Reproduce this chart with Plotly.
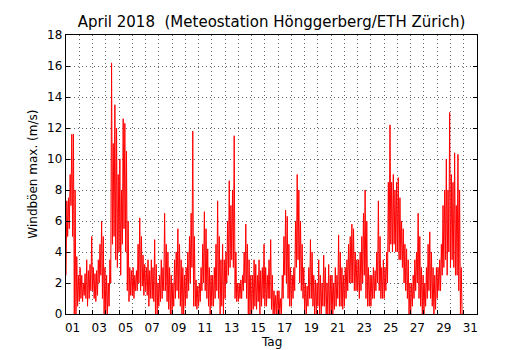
import plotly.graph_objects as go

# Day labels (odd days)
tick_labels = ["01", "03", "05", "07", "09", "11", "13", "15", "17", "19", "21",
               "23", "25", "27", "29", "31"]
tick_days = [1, 3, 5, 7, 9, 11, 13, 15, 17, 19, 21, 23, 25, 27, 29, 31]

# Max gust (m/s): per day, 8 three-hour bins, upper and lower envelope
gust_hi = [
    [7.3, 7.5, 9.0, 11.6, 11.6, 8.0, 3.7, 2.5],     # Apr 01
    [3.0, 2.5, 2.0, 2.6, 3.5, 2.8, 3.2, 5.0],       # Apr 02
    [3.0, 2.6, 2.8, 3.5, 4.5, 6.0, 5.0, 3.0],       # Apr 03
    [2.5, 2.0, 3.5, 16.2, 11.0, 13.5, 12.0, 9.0],   # Apr 04
    [10.0, 8.0, 12.6, 12.3, 10.5, 6.0, 3.0, 2.8],   # Apr 05
    [3.0, 2.5, 2.8, 4.5, 6.2, 5.0, 3.8, 3.2],       # Apr 06
    [3.0, 3.5, 2.8, 3.5, 3.0, 4.8, 3.2, 2.0],       # Apr 07
    [2.5, 3.5, 3.0, 6.5, 4.5, 4.0, 3.0, 2.5],       # Apr 08
    [2.0, 3.5, 4.0, 5.5, 4.5, 3.5, 3.0, 2.5],       # Apr 09
    [3.0, 4.0, 5.0, 6.5, 11.8, 5.0, 2.2, 1.8],      # Apr 10
    [2.0, 3.0, 4.5, 6.6, 5.5, 4.2, 3.0, 2.5],       # Apr 11
    [2.5, 3.0, 4.5, 7.3, 5.0, 3.5, 4.5, 3.5],       # Apr 12
    [4.0, 6.0, 8.6, 7.0, 8.0, 11.5, 4.0, 2.0],      # Apr 13
    [2.0, 2.2, 2.5, 4.0, 5.8, 4.5, 3.5, 2.5],       # Apr 14
    [2.5, 3.5, 3.2, 2.5, 3.5, 2.8, 3.0, 4.5],       # Apr 15
    [3.0, 2.5, 3.5, 4.8, 2.5, 1.5, 1.2, 1.5],       # Apr 16
    [1.5, 1.0, 2.5, 5.0, 6.7, 6.3, 4.5, 3.0],       # Apr 17
    [2.5, 3.0, 6.0, 9.0, 8.0, 6.0, 4.5, 3.0],       # Apr 18
    [2.0, 1.8, 3.0, 4.8, 4.0, 2.5, 2.2, 2.0],       # Apr 19
    [3.5, 2.5, 2.0, 3.8, 3.0, 2.0, 3.2, 2.5],       # Apr 20
    [2.5, 2.0, 3.0, 2.5, 5.1, 4.0, 3.0, 2.5],       # Apr 21
    [3.0, 3.5, 4.5, 5.0, 5.8, 5.5, 4.0, 3.5],       # Apr 22
    [3.5, 4.0, 5.0, 6.5, 8.0, 6.0, 3.0, 2.5],       # Apr 23
    [2.5, 3.0, 2.8, 4.0, 7.3, 5.0, 3.0, 3.5],       # Apr 24
    [3.0, 4.0, 8.5, 12.2, 8.5, 9.0, 8.0, 8.5],      # Apr 25
    [8.8, 7.5, 6.0, 5.5, 4.5, 4.2, 3.5, 2.0],       # Apr 26
    [2.0, 2.5, 3.5, 4.0, 6.5, 5.0, 3.0, 2.5],       # Apr 27
    [2.0, 3.0, 4.5, 5.3, 4.0, 3.0, 2.5, 3.0],       # Apr 28
    [3.0, 3.5, 4.5, 7.0, 8.0, 10.0, 8.0, 13.0],     # Apr 29
    [9.0, 8.5, 10.4, 7.0, 10.3, 8.0, 3.0, 0.0],     # Apr 30
]
gust_lo = [
    [2.5, 5.0, 5.5, 7.0, 5.0, 0.0, 0.0, 0.5],
    [0.8, 1.0, 0.8, 1.2, 1.0, 0.5, 1.0, 1.5],
    [1.5, 1.0, 0.8, 1.2, 2.0, 2.5, 1.0, 0.0],
    [0.0, 0.0, 0.5, 2.0, 4.5, 5.0, 3.5, 3.0],
    [4.0, 2.5, 4.5, 5.5, 4.0, 1.5, 0.8, 1.2],
    [1.2, 1.0, 1.5, 1.5, 2.0, 1.5, 1.8, 1.2],
    [1.5, 1.2, 0.5, 1.0, 1.0, 0.8, 0.0, 0.0],
    [0.5, 0.8, 1.0, 1.5, 1.5, 0.8, 0.3, 0.0],
    [0.0, 0.5, 1.0, 1.5, 1.0, 0.5, 0.0, 0.0],
    [0.5, 1.0, 1.5, 2.0, 3.0, 0.5, 0.5, 0.3],
    [0.5, 0.8, 1.5, 2.0, 1.5, 1.0, 0.5, 0.0],
    [0.5, 0.5, 1.0, 1.5, 1.0, 0.0, 0.5, 0.0],
    [1.0, 2.0, 2.5, 3.0, 3.5, 3.0, 1.0, 0.8],
    [0.8, 1.0, 1.0, 1.5, 2.0, 1.0, 0.0, 0.0],
    [0.0, 0.3, 0.5, 0.3, 0.8, 0.0, 0.5, 1.0],
    [0.5, 0.5, 1.0, 1.0, 0.3, 0.0, 0.0, 0.0],
    [0.0, 0.0, 0.0, 1.0, 2.5, 2.0, 1.0, 0.5],
    [0.5, 1.0, 1.5, 3.0, 3.5, 2.0, 1.5, 1.0],
    [0.0, 0.0, 0.5, 1.0, 1.0, 0.5, 0.0, 0.0],
    [0.5, 0.0, 0.0, 0.5, 0.5, 0.0, 0.0, 0.0],
    [0.0, 0.0, 0.3, 0.5, 1.0, 0.5, 0.5, 0.3],
    [0.5, 1.0, 1.5, 2.0, 2.0, 2.0, 1.5, 1.5],
    [1.5, 1.0, 1.5, 2.0, 2.5, 1.0, 0.5, 0.5],
    [0.5, 1.0, 1.0, 1.5, 2.0, 1.5, 1.0, 1.0],
    [1.0, 1.5, 2.0, 4.0, 4.5, 4.0, 4.5, 4.0],
    [4.0, 3.5, 3.5, 3.0, 2.0, 1.5, 1.0, 0.0],
    [0.0, 0.5, 1.0, 1.5, 2.0, 1.0, 0.5, 0.0],
    [0.0, 0.5, 1.0, 1.5, 1.0, 0.5, 0.0, 0.3],
    [1.0, 1.5, 1.5, 2.5, 3.0, 3.5, 2.5, 4.0],
    [3.0, 3.5, 3.0, 2.5, 2.5, 1.5, 0.0, 0.0],
]

# Build the time series: x in days since 1 April 00:00
xs, ys = [], []
for d, (hrow, lrow) in enumerate(zip(gust_hi, gust_lo)):
    for b, (h, l) in enumerate(zip(hrow, lrow)):
        t = d + b / 8.0
        xs += [t, t + 1 / 16.0]
        ys += [l, h]

font = "DejaVu Sans, Bitstream Vera Sans, sans-serif"
fs = 12

fig = go.Figure()
fig.add_trace(go.Scatter(x=xs, y=ys, mode="lines",
                         line=dict(color="#ff0000", width=1),
                         hoverinfo="skip", showlegend=False))

fig.update_layout(
    width=530, height=350,
    margin=dict(l=66, r=53, t=35, b=36),
    paper_bgcolor="white", plot_bgcolor="white",
    font=dict(family=font, size=fs, color="black"),
    title=dict(text="April 2018  (Meteostation Hönggerberg/ETH Zürich)",
               font=dict(family=font, size=15, color="black"),
               x=0.5, xref="paper", xanchor="center",
               y=1 - 22 / 350, yref="container", yanchor="middle"),
    showlegend=False,
    annotations=[
        dict(text="Tag", xref="paper", yref="paper", x=0.5, y=-28 / 279,
             xanchor="center", yanchor="middle", showarrow=False,
             font=dict(family=font, size=fs, color="black")),
        dict(text="Windböen max. (m/s)", xref="paper", yref="paper",
             x=(32.7 - 66.5) / 410.5, y=0.5, textangle=-90,
             xanchor="center", yanchor="middle", showarrow=False,
             font=dict(family=font, size=fs, color="black")),
    ],
)

fig.update_xaxes(
    range=[0, 31], automargin=False,
    tickmode="array", tickvals=[d - 0.5 for d in tick_days], ticktext=tick_labels,
    ticks="", showgrid=False, zeroline=False, ticklabelstandoff=2,
    showline=True, linecolor="black", linewidth=1.2, mirror=True,
    tickfont=dict(family=font, size=fs, color="black"),
    minor=dict(tickmode="array", tickvals=list(range(1, 31)), ticks="inside",
               ticklen=4, tickcolor="black", showgrid=True,
               gridcolor="#666666", gridwidth=1, griddash="1px,3px"),
)
fig.update_yaxes(
    range=[0, 18], automargin=False,
    tickmode="linear", tick0=0, dtick=2,
    ticks="inside", ticklen=4, tickcolor="black",
    showgrid=True, gridcolor="#666666", gridwidth=1, griddash="1px,3px",
    zeroline=False,
    showline=True, linecolor="black", linewidth=1.2, mirror="ticks",
    tickfont=dict(family=font, size=fs, color="black"),
)

fig.write_html("out.html",
               config={"displayModeBar": False, "staticPlot": True},
               post_script="document.body.style.margin='0px';"
                           "document.body.style.overflow='hidden';")
